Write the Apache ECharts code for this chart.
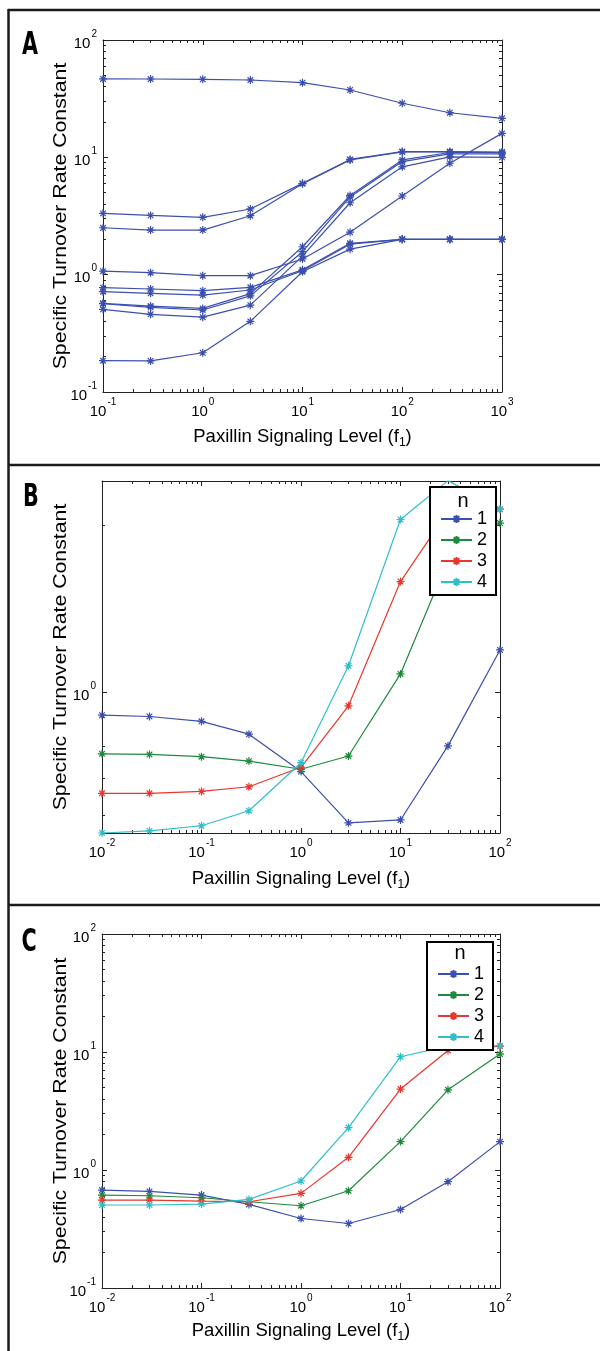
<!DOCTYPE html>
<html><head><meta charset="utf-8">
<script src="https://cdn.jsdelivr.net/npm/echarts@6/dist/echarts.min.js"></script>
<style>html,body{margin:0;padding:0;background:#fff}#c{width:600px;height:1351px}</style>
</head><body><div id="c"></div>
<script>
// ---------- DATA ----------
const xA = [0.1, 0.3, 1, 3, 10, 30, 100, 300, 1000];
const a1 = [46.6, 46.5, 46.2, 45.6, 43.3, 37.5, 28.9, 24.0, 21.5];
const a2 = [3.33, 3.20, 3.08, 3.63, 6.0, 9.6, 11.2, 11.2, 11.1];
const a3 = [2.51, 2.40, 2.40, 3.18, 5.95, 9.5, 11.1, 11.1, 11.0];
const a4 = [1.07, 1.04, 0.98, 0.98, 1.36, 2.30, 4.68, 8.9, 16.0];
const a5 = [0.774, 0.755, 0.73, 0.78, 1.10, 1.85, 2.0, 2.0, 2.0];
const a6 = [0.716, 0.694, 0.67, 0.74, 1.08, 1.82, 2.0, 2.0, 2.0];
const a7 = [0.185, 0.184, 0.216, 0.40, 1.06, 1.65, 2.0, 2.0, 2.0];
const a8 = [0.57, 0.54, 0.516, 0.69, 1.73, 4.73, 9.5, 11.0, 11.0];
const a9 = [0.565, 0.527, 0.50, 0.66, 1.57, 4.6, 9.2, 10.7, 10.7];
const a10 = [0.507, 0.459, 0.434, 0.55, 1.44, 4.1, 8.3, 10.1, 10.0];

const xBC = [0.01, 0.03, 0.1, 0.3, 1, 3, 10, 30, 100];
const b1 = [0.909, 0.904, 0.886, 0.840, 0.719, 0.581, 0.588, 0.800, 1.192];
const b2 = [0.774, 0.772, 0.765, 0.751, 0.726, 0.767, 1.079, 1.73, 2.02];
const b3 = [0.657, 0.657, 0.662, 0.675, 0.732, 0.945, 1.584, 2.12, 2.14];
const b4 = [0.557, 0.562, 0.574, 0.611, 0.746, 1.116, 2.05, 2.41, 2.14];

const c1 = [0.676, 0.659, 0.613, 0.511, 0.388, 0.352, 0.463, 0.796, 1.74];
const c2 = [0.613, 0.605, 0.582, 0.538, 0.498, 0.667, 1.74, 4.78, 9.6];
const c3 = [0.556, 0.556, 0.545, 0.538, 0.634, 1.28, 4.85, 10.3, 11.2];
const c4 = [0.505, 0.505, 0.514, 0.563, 0.807, 2.29, 9.12, 11.2, 11.3];

const legendNames = ['1', '2', '3', '4'];
const xTicksA = [0.1, 1, 10, 100, 1000];
const yTicksA = [0.1, 1, 10, 100];
const xTicksBC = [0.01, 0.1, 1, 10, 100];
const yTicksB = [1];
const yTicksC = [0.1, 1, 10, 100];
const yRangeB = [0.557, 2.406];

const xTitle = 'Paxillin Signaling Level (f';
const xTitleSub = '1';
const yTitle = 'Specific Turnover Rate Constant';

// ---------- STYLE ----------
const FONT = '"Liberation Sans", Arial, Helvetica, sans-serif';
const LETTER_FONT = '"Liberation Sans Narrow", "DejaVu Sans Condensed", "Liberation Sans", sans-serif';
const STAR = 'path://M5,0L5,10M0,5L10,5M1.5,1.5L8.5,8.5M1.5,8.5L8.5,1.5';
const BLUE = '#3b4fae', GREEN = '#1f8a3d', RED = '#e8372c', CYAN = '#30bfca';
const AX = '#222';

function minorsFor(min, max) {
  const out = [];
  for (let e = Math.floor(Math.log10(min)) - 1; e <= Math.ceil(Math.log10(max)); e++) {
    for (let k = 2; k <= 9; k++) {
      const v = +(k * Math.pow(10, e)).toPrecision(6);
      if (v > min * 1.0001 && v < max * 0.9999) out.push(v);
    }
  }
  return out;
}
function sci(v) {
  const e = Math.round(Math.log10(v));
  return '{b|10}{e|' + e + '}';
}
const RICH = {
  b: { fontSize: 15, fontFamily: FONT, color: '#000', lineHeight: 22, verticalAlign: 'bottom' },
  e: { fontSize: 10, fontFamily: FONT, color: '#000', lineHeight: 10, verticalAlign: 'top', padding: [0, 0, 0, 1] }
};

const xAxes = [], yAxes = [];
function addAxes(list, grid, isX, min, max, majors, margin) {
  const minors = minorsFor(min, max);
  const pos = isX ? ['bottom', 'top'] : ['left', 'right'];
  const mainIdx = list.length;
  pos.forEach((p, i) => {
    const base = { type: 'log', logBase: 10, gridIndex: grid, min: min, max: max, position: p,
      splitLine: { show: false }, axisPointer: { show: false } };
    list.push(Object.assign({}, base, {
      axisLine: { show: true, lineStyle: { color: AX, width: 1 } },
      axisTick: { show: true, inside: true, length: 5, customValues: majors, lineStyle: { color: AX, width: 1 } },
      axisLabel: i === 0 ? { show: true, customValues: majors, formatter: sci, margin: margin, rich: RICH } : { show: false }
    }));
    list.push(Object.assign({}, base, {
      axisLine: { show: false },
      axisTick: { show: true, inside: true, length: 3, customValues: minors, lineStyle: { color: AX, width: 1 } },
      axisLabel: { show: false }
    }));
  });
  return mainIdx;
}

const grids = [
  { left: 103, top: 40, width: 399, height: 352 },
  { left: 102, top: 481, width: 398, height: 352 },
  { left: 102, top: 934, width: 398, height: 354 }
];
const xA_i = addAxes(xAxes, 0, true, 0.1, 1000, xTicksA, 5);
const yA_i = addAxes(yAxes, 0, false, 0.1, 100, yTicksA, 6);
const xB_i = addAxes(xAxes, 1, true, 0.01, 100, xTicksBC, 5);
const yB_i = addAxes(yAxes, 1, false, yRangeB[0], yRangeB[1], yTicksB, 6);
const xC_i = addAxes(xAxes, 2, true, 0.01, 100, xTicksBC, 5);
const yC_i = addAxes(yAxes, 2, false, 0.1, 100, yTicksC, 6);

function mkSeries(name, xs, ys, color, xi, yi) {
  return {
    type: 'line', name: name, xAxisIndex: xi, yAxisIndex: yi,
    data: xs.map((x, i) => [x, ys[i]]),
    symbol: STAR, symbolSize: 8, showSymbol: true,
    lineStyle: { color: color, width: 1.2 },
    itemStyle: { color: color, borderColor: color, borderWidth: 1.2 },
    emphasis: { disabled: true }, animation: false, clip: true, z: 3
  };
}
const series = [];
[a1, a2, a3, a4, a5, a6, a7, a8, a9, a10].forEach((s, i) => series.push(mkSeries('A' + (i + 1), xA, s, BLUE, xA_i, yA_i)));
[b1, b2, b3, b4].forEach((s, i) => series.push(mkSeries(legendNames[i], xBC, s, [BLUE, GREEN, RED, CYAN][i], xB_i, yB_i)));
[c1, c2, c3, c4].forEach((s, i) => series.push(mkSeries(legendNames[i], xBC, s, [BLUE, GREEN, RED, CYAN][i], xC_i, yC_i)));

function legendAt(left, top) {
  return {
    data: legendNames, orient: 'vertical', left: left, top: top,
    padding: [23, 9, 4, 10], itemGap: 3, itemWidth: 31, itemHeight: 10,
    textStyle: { fontSize: 18, fontFamily: FONT, color: '#000', lineHeight: 18 },
    borderColor: '#000', borderWidth: 2, backgroundColor: '#fff', selectedMode: false, z: 10
  };
}

const LINE = { stroke: '#1a1a1a', lineWidth: 2.5 };
function titleX(cx, cy) {
  return { type: 'text', x: cx, y: cy, z: 20,
    style: { text: '{a|' + xTitle + '}{s|' + xTitleSub + '}{a|)}', align: 'center', verticalAlign: 'middle',
      rich: { a: { fontSize: 18.5, fontFamily: FONT, fill: '#000', color: '#000', lineHeight: 24, verticalAlign: 'middle' },
              s: { fontSize: 12, fontFamily: FONT, fill: '#000', color: '#000', lineHeight: 12, verticalAlign: 'bottom' } } } };
}
function titleY(cx, cy) {
  return { type: 'text', x: cx, y: cy, rotation: Math.PI / 2, scaleX: 1.15, z: 20,
    style: { text: yTitle, font: '18.5px ' + FONT, fill: '#000', align: 'center', verticalAlign: 'middle' } };
}
function letter(t, cx, cy) {
  return { type: 'text', x: cx, y: cy, scaleY: 1.35, z: 20,
    style: { text: t, font: 'bold 23px ' + LETTER_FONT, fill: '#000', align: 'center', verticalAlign: 'middle' } };
}
function nTitle(cx, cy) {
  return { type: 'text', x: cx, y: cy, z: 30,
    style: { text: 'n', font: '20px ' + FONT, fill: '#000', align: 'center', verticalAlign: 'middle' } };
}

const chart = echarts.init(document.getElementById('c'), null, { renderer: 'canvas' });
chart.setOption({
  backgroundColor: '#fff',
  animation: false,
  grid: grids,
  xAxis: xAxes,
  yAxis: yAxes,
  legend: [legendAt(430, 487), legendAt(427, 942)],
  series: series,
  graphic: [
    { type: 'line', shape: { x1: 8, y1: 10, x2: 600, y2: 10 }, style: LINE, z: 50 },
    { type: 'line', shape: { x1: 8.5, y1: 9, x2: 8.5, y2: 1351 }, style: LINE, z: 50 },
    { type: 'line', shape: { x1: 8, y1: 465, x2: 600, y2: 465 }, style: LINE, z: 50 },
    { type: 'line', shape: { x1: 8, y1: 905, x2: 600, y2: 905 }, style: LINE, z: 50 },
    letter('A', 30, 46), letter('B', 31, 498), letter('C', 29, 943),
    titleY(61, 216), titleY(61, 657), titleY(61, 1111),
    titleX(302.5, 437), titleX(301, 879), titleX(301, 1331),
    nTitle(463, 501), nTitle(460, 953)
  ]
});
</script>
</body></html>
